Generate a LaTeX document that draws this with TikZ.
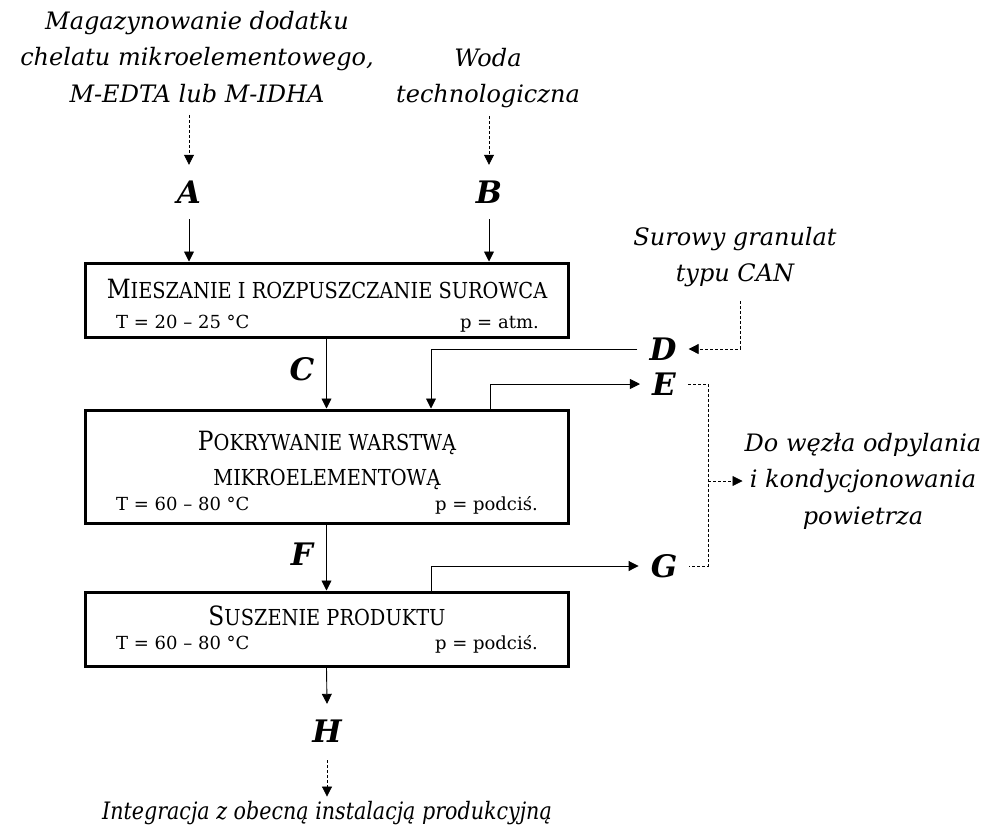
\documentclass[tikz,border=0pt]{standalone}
\usepackage{fontspec}
\setmainfont{DejaVu Serif}
\newfontfamily\capsfont{DejaVu Serif}[FakeStretch=0.88]
\newfontfamily\narrowserif{DejaVu Serif}[FakeStretch=0.86]
\usetikzlibrary{arrows.meta}

% small caps imitation: full-size initial, reduced capitals for the rest
\newcommand{\scword}[2]{{\capsfont\fontsize{26.5}{35}\selectfont #1}{\capsfont\fontsize{22}{35}\selectfont #2}}
\newcommand{\scsmall}[1]{{\capsfont\fontsize{22}{35}\selectfont #1}}

\tikzset{
  flow/.style={line width=0.9pt, -{Triangle[length=10pt,width=10pt]}},
  feed/.style={flow, line width=0.8pt, dash pattern=on 3pt off 2pt},
  vent/.style={line width=0.8pt, dash pattern=on 3pt off 2pt},
  unit/.style={draw, line width=3pt, minimum width=483pt, inner sep=0pt},
  stream/.style={font=\fontsize{31}{31}\selectfont\bfseries\itshape, text height=22pt, text depth=0pt,
                 inner ysep=16pt, inner xsep=12pt, anchor=base},
  note/.style={font=\fontsize{24}{36.5}\selectfont\itshape, align=center, inner sep=4pt},
  heading/.style={anchor=base, inner sep=0pt},
  param/.style={font=\fontsize{18}{18}\selectfont, inner sep=0pt},
}

\begin{document}
\begin{tikzpicture}[x=1pt,y=-1pt]
\useasboundingbox (0,0) rectangle (990,836);

% feed and destination notes
\node[note] (srcA) at (197,57) {Magazynowanie dodatku\\chelatu mikroelementowego,\\M-EDTA lub M-IDHA};
\node[note] (srcB) at (488,78) {Woda\\technologiczna};
\node[note] (srcD) at (735,257) {Surowy granulat\\typu CAN};
\node[note, inner xsep=2pt] (dest) at (863,481) {Do węzła odpylania\\i kondycjonowania\\powietrza};
\node[note, font=\narrowserif\fontsize{24}{36.5}\selectfont\itshape, anchor=base] (out) at (327,819)
  {Integracja z obecną instalacją produkcyjną};

% process units
\node[unit, minimum height=74pt]  (box1) at (326.5,300) {};
\node[unit, minimum height=113pt] (box2) at (326.5,466.5) {};
\node[unit, minimum height=74pt]  (box3) at (326.5,629) {};

\node[heading] (h1) at (327,298) {\scword{M}{IESZANIE I ROZPUSZCZANIE SUROWCA}};
\node[param, anchor=base west] (t1) at (116,328) {T = 20 – 25 °C};
\node[param, anchor=base east] (p1) at (539,328) {p = atm.};

\node[heading] (h2a) at (327,450) {\scword{P}{OKRYWANIE WARSTWĄ}};
\node[heading] (h2b) at (327,485) {\scsmall{MIKROELEMENTOWĄ}};
\node[param, anchor=base west] (t2) at (116,510) {T = 60 – 80 °C};
\node[param, anchor=base east] (p2) at (538,510) {p = podciś.};

\node[heading] (h3) at (327,625) {\scword{S}{USZENIE PRODUKTU}};
\node[param, anchor=base west] (t3) at (116,649) {T = 60 – 80 °C};
\node[param, anchor=base east] (p3) at (538,649) {p = podciś.};

% stream labels
\node[stream] (A) at (189,203) {A};
\node[stream] (B) at (489,203) {B};
\node[stream] (C) at (302,380) {C};
\node[stream] (D) at (663,360) {D};
\node[stream] (E) at (664,395) {E};
\node[stream] (F) at (302,565) {F};
\node[stream] (G) at (664,577) {G};
\node[stream] (H) at (327,742) {H};

% inputs
\draw[feed, shorten <=8pt] (A.north |- srcA.south) -- (A.north);
\draw[feed, shorten <=4pt] (B.north |- srcB.south) -- (B.north);
\draw[flow] (A.south) -- (A.south |- box1.north);
\draw[flow] (B.south) -- (B.south |- box1.north);
\draw[feed] ([xshift=5pt,yshift=-10pt]srcD.south) |- (D.east);

% main line
\draw[flow] (box1.south) -- (box2.north);
\draw[flow] (D.west) -| ([xshift=104.5pt]box2.north);
\draw[flow] ([xshift=163.5pt]box2.north) |- (E.west);
\draw[flow] (box2.south) -- (box3.north);
\draw[flow] ([xshift=104.5pt]box3.north) |- (G.west);
\draw[flow] (box3.south) -- (H.north);
\draw[feed, shorten <=2pt] (H.south) -- (out.north);

% exhaust air collection
\coordinate (jn) at (708,0);
\draw[vent] (E.east) -| (jn |- G.east) -- (G.east);
\draw[feed] (jn |- dest.west) -- (dest.west);
\end{tikzpicture}
\end{document}
